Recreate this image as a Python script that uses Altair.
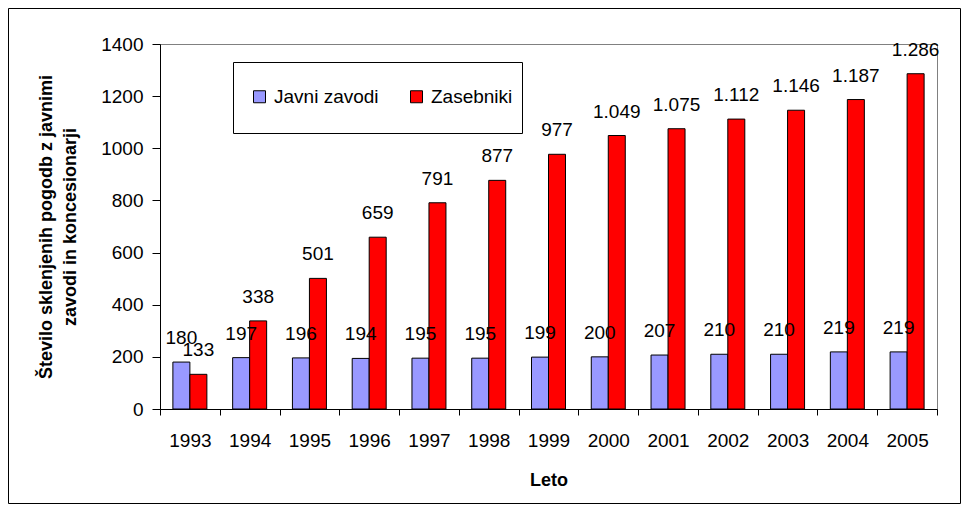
import altair as alt
import pandas as pd

# ---- data ----
years = ["1993", "1994", "1995", "1996", "1997", "1998", "1999",
         "2000", "2001", "2002", "2003", "2004", "2005"]
javni_zavodi = [180, 197, 196, 194, 195, 195, 199, 200, 207, 210, 210, 219, 219]
zasebniki = [133, 338, 501, 659, 791, 877, 977, 1049, 1075, 1112, 1146, 1187, 1286]
series = ["Javni zavodi", "Zasebniki"]
colors = ["#9999FF", "#FF0000"]
y_ticks = [0, 200, 400, 600, 800, 1000, 1200, 1400]
y_title = ["Število sklenjenih pogodb z javnimi", "zavodi in koncesionarji"]
x_title = "Leto"

rows = []
for i, yr in enumerate(years):
    rows.append({"Leto": yr, "serija": series[0], "vrednost": javni_zavodi[i]})
    rows.append({"Leto": yr, "serija": series[1], "vrednost": zasebniki[i]})
df = pd.DataFrame(rows)

FONT = "Liberation Sans"
W, H = 777, 365

x_enc = alt.X(
    "Leto:N", sort=years,
    scale=alt.Scale(paddingInner=0, paddingOuter=0),
    axis=alt.Axis(
        title=x_title, labelAngle=0, tickBand="extent", tickSize=6,
        labelPadding=16, labelFontSize=19, titleFontSize=18,
        titleFontWeight="bold", titleY=76, titleBaseline="alphabetic",
        domainColor="black", tickColor="black", labelColor="black",
        titleColor="black",
    ),
)
xoff_enc = alt.XOffset(
    "serija:N", sort=series,
    scale=alt.Scale(paddingInner=0, paddingOuter=0.758),
)
y_enc = alt.Y(
    "vrednost:Q",
    scale=alt.Scale(domain=[0, 1400], nice=False),
    axis=alt.Axis(
        values=y_ticks, format="d", grid=False, title=y_title,
        tickSize=8, labelPadding=9, labelFontSize=19,
        titleFontSize=18, titleFontWeight="bold", titleAngle=270,
        titleX=-114, titleY=182.5, titleBaseline="middle",
        titleAlign="center", titleLineHeight=24,
        domainColor="black", tickColor="black", labelColor="black",
        titleColor="black",
    ),
)

base = alt.Chart(df)

bars = base.mark_bar(stroke="black", strokeWidth=1).encode(
    x=x_enc,
    xOffset=xoff_enc,
    y=y_enc,
    color=alt.Color(
        "serija:N",
        scale=alt.Scale(domain=series, range=colors),
        legend=alt.Legend(
            title=None, orient="none", legendX=90, legendY=43,
            direction="horizontal", symbolType="square", symbolSize=144,
            symbolStrokeColor="black", symbolStrokeWidth=1,
            symbolOpacity=1, labelFontSize=19, labelFont=FONT,
            labelColor="black", columnPadding=28, labelOffset=5,
            padding=0,
        ),
    ),
)

labels = base.transform_calculate(
    label="replace(format(datum.vrednost, ','), ',', '.')"
).mark_text(
    baseline="alphabetic", dy=-18, fontSize=19, font=FONT, color="black"
).encode(
    x=alt.X("Leto:N", sort=years),
    xOffset=alt.XOffset("serija:N", sort=series),
    y=alt.Y("vrednost:Q"),
    text="label:N",
)

one = alt.Data(values=[{"a": 1}])

legend_box = alt.Chart(one).mark_rect(
    fill="white", stroke="black", strokeWidth=1
).encode(
    x=alt.value(73.5), x2=alt.value(362.5),
    y=alt.value(18.5), y2=alt.value(89.5),
)

frame = alt.Chart(one).mark_rect(
    filled=False, stroke="black", strokeWidth=1
).encode(
    x=alt.value(-151.5), x2=alt.value(800.5),
    y=alt.value(-35.5), y2=alt.value(459.5),
)

chart = alt.layer(frame, legend_box, bars, labels).properties(
    width=W, height=H,
    padding={"left": 152, "top": 36, "right": 24, "bottom": 95},
    autosize=alt.AutoSizeParams(type="none"),
    background="white",
).configure_view(
    stroke="#808080", strokeWidth=1
).configure_axis(
    labelFont=FONT, titleFont=FONT
)

chart.save("out.html", embed_options={"renderer": "svg", "actions": False})
